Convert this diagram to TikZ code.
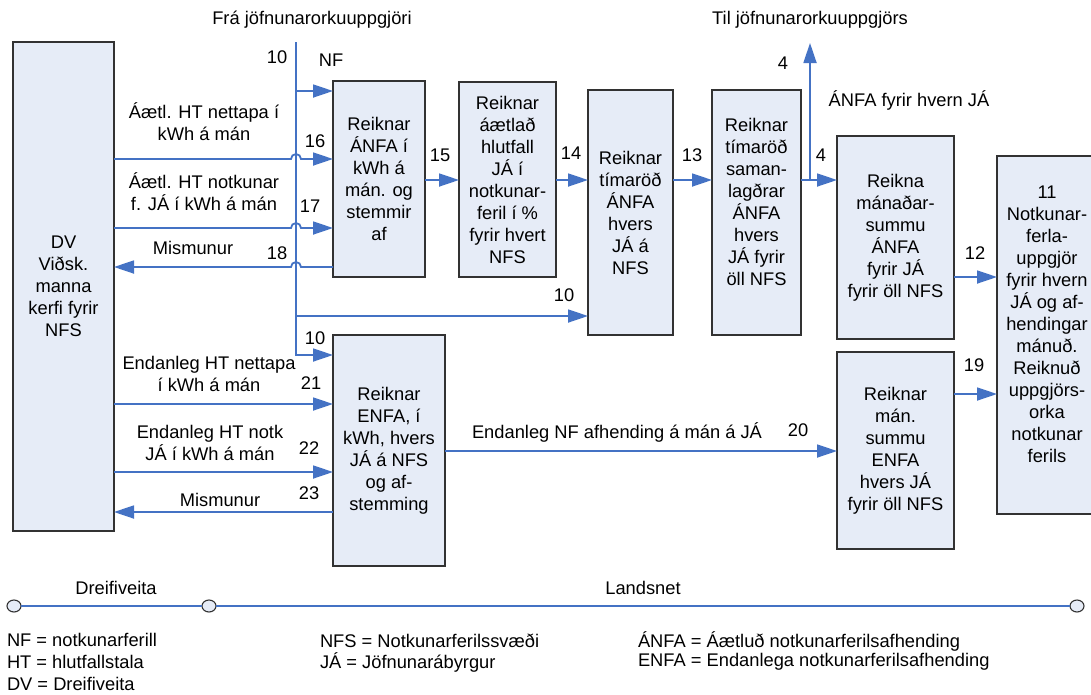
\documentclass[tikz,border=0pt]{standalone}
\usepackage{fontspec}
\setmainfont{Liberation Sans}
\usetikzlibrary{arrows.meta,shapes.geometric}
\definecolor{lnblue}{RGB}{68,114,196}
\definecolor{bxfill}{RGB}{230,236,247}
\definecolor{bxdraw}{RGB}{50,50,50}
\begin{document}
\begin{tikzpicture}[x=1pt,y=-1pt,
  every node/.style={font=\fontsize{18.3}{22}\selectfont, inner sep=0pt, outer sep=0pt},
  box/.style={draw=bxdraw, fill=bxfill, line width=1.5pt, align=center, anchor=north west},
  flow/.style={draw=lnblue, line width=1.8pt, -{Triangle[length=20pt,width=13pt]}},
  plain/.style={draw=lnblue, line width=1.8pt},
  lbl/.style={align=center},
  leg/.style={anchor=west},
  term/.style={ellipse, draw=bxdraw, fill=bxfill, line width=1.1pt, minimum width=14pt, minimum height=12pt},
]
\useasboundingbox (0,0) rectangle (1091,694);

% boxes
\node[box, minimum width=101pt, minimum height=489pt] (DV) at (13,42) {DV\\Viðsk.\\manna\\kerfi fyrir\\NFS};
\node[box, minimum width=92pt, minimum height=196pt] (A) at (333,81) {Reiknar\\ÁNFA í\\kWh á\\mán. og\\stemmir\\af};
\node[box, minimum width=97pt, minimum height=195pt] (B) at (459,82) {Reiknar\\áætlað\\hlutfall\\JÁ í\\notkunar-\\feril í \%\\fyrir hvert\\NFS};
\node[box, minimum width=85pt, minimum height=245pt] (C) at (588,90) {Reiknar\\tímaröð\\ÁNFA\\hvers\\JÁ á\\NFS};
\node[box, minimum width=89pt, minimum height=245pt] (D) at (712,90) {Reiknar\\tímaröð\\saman-\\lagðrar\\ÁNFA\\hvers\\JÁ fyrir\\öll NFS\\\mbox{}};
\node[box, minimum width=117pt, minimum height=203pt] (E) at (837,136) {Reikna\\mánaðar-\\summu\\ÁNFA\\fyrir JÁ\\fyrir öll NFS};
\node[box, minimum width=100pt, minimum height=358pt] (F) at (997,156) {11\\Notkunar-\\ferla-\\uppgjör\\fyrir hvern\\JÁ og af-\\hendingar\\mánuð.\\Reiknuð\\uppgjörs-\\orka\\notkunar\\ferils\\\mbox{}};
\node[box, minimum width=112pt, minimum height=231pt] (G) at (333,335) {Reiknar\\ENFA, í\\kWh, hvers\\JÁ á NFS\\og af-\\stemming};
\node[box, minimum width=117pt, minimum height=197pt] (H) at (837,352) {Reiknar\\mán.\\summu\\ENFA\\hvers JÁ\\fyrir öll NFS};

% vertical feed "10"
\coordinate (vtop) at (296,42);
\coordinate (v1) at (296,91);
\coordinate (v2) at (296,316);
\draw[flow] (vtop) |- (G.west |- 0,355);
\draw[flow] (v1) -- (A.west |- 0,91);
\draw[flow] (v2) -- (C.west |- 0,316);

% inputs to A with jumps
\draw[flow] (DV.east |- 0,159) -- (291,159) arc[start angle=180,end angle=360,radius=5] -- (A.west |- 0,159);
\draw[flow] (DV.east |- 0,228) -- (291,228) arc[start angle=180,end angle=360,radius=5] -- (A.west |- 0,228);
\draw[flow] (A.west |- 0,267) -- (301,267) arc[start angle=0,end angle=-180,radius=5] -- (DV.east |- 0,267);

% inputs to G
\draw[flow] (DV.east |- 0,404) -- (G.west |- 0,404);
\draw[flow] (DV.east |- 0,472) -- (G.west |- 0,472);
\draw[flow] (G.west |- 0,512) -- (DV.east |- 0,512);

% main chain
\draw[flow] (A.east |- 0,180) -- (B.west |- 0,180);
\draw[flow] (B.east |- 0,180) -- (C.west |- 0,180);
\draw[flow] (C.east |- 0,180) -- (D.west |- 0,180);
\draw[flow] (D.east |- 0,180) -- (E.west |- 0,180);
\coordinate (br) at (810,180);
\coordinate (til) at (810,43);
\draw[flow] (br) -- (til);
\draw[flow] (E.east |- 0,277) -- (F.west |- 0,277);
\draw[flow] (H.east |- 0,394) -- (F.west |- 0,394);
\draw[flow] (G.east |- 0,451) -- (H.west |- 0,451);

% labels
\node[lbl] (tfra) at (312,20) {Frá jöfnunarorkuuppgjöri};
\node[lbl] (ttil) at (810,20) {Til jöfnunarorkuuppgjörs};
\node[lbl] (tanfa) at (909,100) {ÁNFA fyrir hvern JÁ};
\node[lbl] (n10a) at (277,57) {10};
\node[lbl] (nNF) at (331,60) {NF};
\node[lbl] (t16) at (204,122) {Áætl. HT nettapa í\\kWh á mán};
\node[lbl] (n16) at (315,141) {16};
\node[lbl] (t17) at (204,192) {Áætl. HT notkunar\\f. JÁ í kWh á mán};
\node[lbl] (n17) at (310,206) {17};
\node[lbl] (t18) at (193,248) {Mismunur};
\node[lbl] (n18) at (277,253) {18};
\node[lbl] (n15) at (440,155) {15};
\node[lbl] (n14) at (571,153) {14};
\node[lbl] (n13) at (692,155) {13};
\node[lbl] (n4a) at (821,155) {4};
\node[lbl] (n4b) at (783,63) {4};
\node[lbl] (n10b) at (564,295) {10};
\node[lbl] (n10c) at (315,338) {10};
\node[lbl] (t21) at (209,374) {Endanleg HT nettapa\\í kWh á mán};
\node[lbl] (n21) at (311,383) {21};
\node[lbl] (t22) at (210,443) {Endanleg HT notk\\JÁ í kWh á mán};
\node[lbl] (n22) at (309,448) {22};
\node[lbl] (t23) at (220,500) {Mismunur};
\node[lbl] (n23) at (309,493) {23};
\node[lbl] (t20) at (617,432) {Endanleg NF afhending á mán á JÁ};
\node[lbl] (n20) at (798,430) {20};
\node[lbl] (n12) at (975,253) {12};
\node[lbl] (n19) at (974,365) {19};

% bottom scale
\node[term] (c1) at (14,606) {};
\node[term] (c2) at (209,606) {};
\node[term] (c3) at (1077,606) {};
\draw[plain] (c1) -- (c2);
\draw[plain] (c2) -- (c3);
\node[lbl] (tdv) at (116,588) {Dreifiveita};
\node[lbl] (tln) at (643,588) {Landsnet};

% legend
\node[leg] (l1) at (7,640) {NF = notkunarferill};
\node[leg] (l2) at (7,662) {HT = hlutfallstala};
\node[leg] (l3) at (7,684) {DV = Dreifiveita};
\node[leg] (l4) at (320,641) {NFS = Notkunarferilssvæði};
\node[leg] (l5) at (320,662) {JÁ = Jöfnunarábyrgur};
\node[leg] (l6) at (638,641) {ÁNFA = Áætluð notkunarferilsafhending};
\node[leg] (l7) at (638,662) {ENFA = Endanlega notkunarferilsafhending};
\end{tikzpicture}
\end{document}
